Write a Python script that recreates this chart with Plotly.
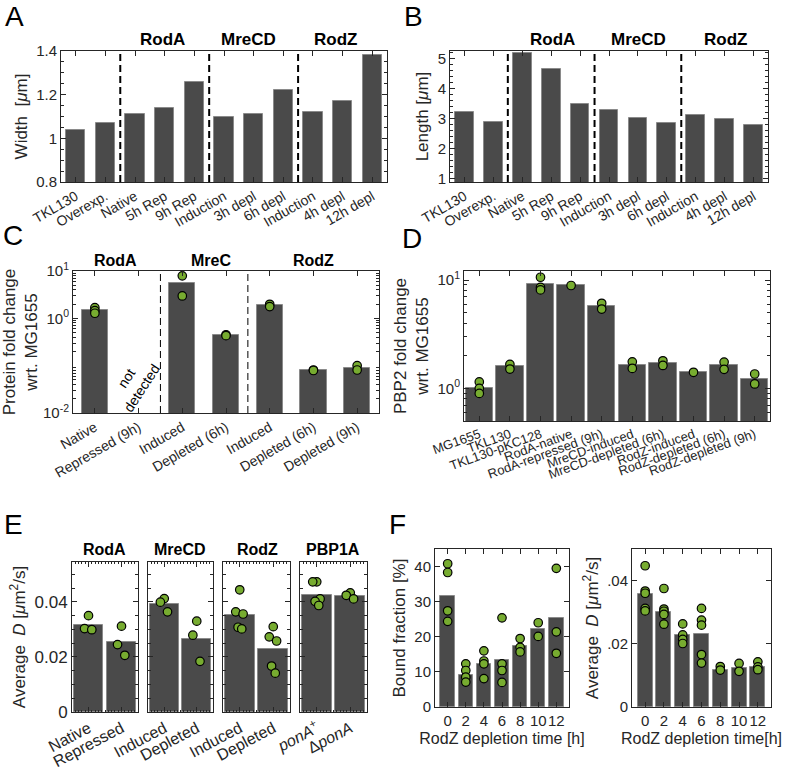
import plotly.graph_objects as go

W, H = 793, 772

# ---- data ----
ab_labels = ["TKL130", "Overexp.", "Native", "5h Rep", "9h Rep", "Induction",
             "3h depl", "6h depl", "Induction", "4h depl", "12h depl"]
ab_groups = ["RodA", "MreCD", "RodZ"]
width_vals = [1.04, 1.07, 1.11, 1.14, 1.26, 1.10, 1.11, 1.22, 1.12, 1.17, 1.38]
length_vals = [3.21, 2.90, 5.17, 4.64, 3.49, 3.28, 3.04, 2.85, 3.14, 3.00, 2.79]

c_labels = ["Native", "Repressed (9h)", "Induced", "Depleted (6h)",
            "Induced", "Depleted (6h)", "Depleted (9h)"]
c_groups = ["RodA", "MreC", "RodZ"]
c_bars = [1.5, None, 5.5, 0.45, 1.9, 0.081, 0.091]
c_dots = [[1.68, 1.45, 1.28], [], [7.9, 2.97], [0.45, 0.43],
          [1.98, 1.77], [0.081, 0.079], [0.1, 0.081]]

d_labels = ["MG1655", "TKL130", "TKL130-pKC128", "RodA-native",
            "RodA-repressed (9h)", "MreCD-induced", "MreCD-depleted (6h)",
            "RodZ-induced", "RodZ-depleted (6h)", "RodZ-depleted (9h)"]
d_bars = [1.0, 1.61, 9.1, 8.9, 5.75, 1.64, 1.71, 1.41, 1.63, 1.22]
d_dots = [[1.15, 1.0, 0.9], [1.67, 1.51], [10.6, 8.55, 8.1], [8.9],
          [6.1, 5.4], [1.76, 1.53], [1.8, 1.63], [1.41], [1.75, 1.5],
          [1.36, 1.1]]

e_groups = ["RodA", "MreCD", "RodZ", "PBP1A"]
e_labels = [["Native", "Repressed"], ["Induced", "Depleted"],
            ["Induced", "Depleted"],
            ["<i>ponA</i><sup>+</sup>", "Δ<i>ponA</i>"]]
e_bars = [[0.0316, 0.0256], [0.0392, 0.0265], [0.0353, 0.0230],
          [0.0424, 0.0422]]
e_dots = [
    [[0.0350, 0.0303, 0.0299], [0.0312, 0.0245, 0.0206]],
    [[0.0412, 0.0399, 0.0364], [0.0330, 0.0279, 0.0184]],
    [[0.0444, 0.0364, 0.0356, 0.0308, 0.0302],
     [0.0310, 0.0273, 0.0258, 0.0167, 0.0141]],
    [[0.0473, 0.0473, 0.0411, 0.0402, 0.0387], [0.0433, 0.0424, 0.0411]],
]

f_time = [0, 2, 4, 6, 8, 10, 12]
f_bound = [31.7, 9.1, 12.3, 13.4, 17.5, 22.1, 25.4]
f_bound_dots = [[40.8, 38.3, 27.4, 24.4], [12.3, 10.4, 8.5, 7.1],
                [16.0, 13.1, 12.3, 8.1], [25.4, 12.3, 10.4, 7.0],
                [19.5, 17.0, 15.7], [24.0, 20.1], [39.5, 21.4, 15.3]]
f_D = [0.0358, 0.0302, 0.0227, 0.0230, 0.0118, 0.0125, 0.0127]
f_D_dots = [[0.0447, 0.0367, 0.0360, 0.0312, 0.0304],
            [0.0375, 0.0310, 0.0303, 0.0293, 0.0262],
            [0.0263, 0.0228, 0.0214, 0.0201],
            [0.0312, 0.0275, 0.0259, 0.0166, 0.0139],
            [0.0128, 0.0117], [0.0138, 0.0113], [0.0143, 0.0127, 0.0118]]

# ---- style ----
FONT = "Liberation Sans, Arial, sans-serif"
AXC = "#262626"
BARC = "#4a4a4a"
DOTC = "#77AC30"
MU = "<i>μ</i>"


def xd(a, b):
    return [a / W, b / W]


def yd(top, bot):
    return [1 - bot / H, 1 - top / H]


def names(i):
    s = "" if i == 1 else str(i)
    return "x" + s, "y" + s, "xaxis" + s, "yaxis" + s


def base_axis(**kw):
    d = dict(showline=True, linecolor=AXC, linewidth=1, mirror="allticks",
             ticks="inside", ticklen=5, tickcolor=AXC, showgrid=False,
             zeroline=False, tickfont=dict(size=15, color=AXC),
             title=dict(font=dict(size=17, color=AXC)))
    d.update(kw)
    return d


def ytitle(s, standoff=4, size=17):
    return dict(text=s, font=dict(size=size, color=AXC), standoff=standoff)


def log_minor(lo, hi):
    vals = []
    for e in range(lo, hi):
        for m in range(2, 10):
            vals.append(m * 10 ** e)
    return vals


fig = go.Figure()
layout = {}
annos = []
shapes = []


def bars(i, x, y, w):
    xa, ya, _, _ = names(i)
    fig.add_trace(go.Bar(x=x, y=y, width=w, xaxis=xa, yaxis=ya,
                         marker=dict(color=BARC, line=dict(color="#8a8a8a", width=1)),
                         showlegend=False))


def dots(i, x, y):
    xa, ya, _, _ = names(i)
    fig.add_trace(go.Scatter(x=x, y=y, mode="markers", xaxis=xa, yaxis=ya,
                             marker=dict(color=DOTC, size=8.5,
                                         line=dict(color="black", width=1.2)),
                             showlegend=False, cliponaxis=False))


def dashes(i, xs, width=2):
    xa, ya, _, _ = names(i)
    for xv in xs:
        shapes.append(dict(type="line", xref=xa, yref=ya + " domain", x0=xv, x1=xv,
                           y0=0, y1=1, line=dict(color="black", width=width, dash="7px,4px")))


def text(x, y, s, size=17, bold=False, **kw):
    annos.append(dict(x=x / W, y=1 - y / H, xref="paper", yref="paper",
                      xanchor="center", yanchor="middle",
                      text=f"<b>{s}</b>" if bold else s, showarrow=False,
                      font=dict(size=size, color="black", family=FONT), **kw))


# ---- A: width ----
pos = list(range(1, len(ab_labels) + 1))
bars(1, pos, width_vals, 0.65)
layout["xaxis"] = base_axis(domain=xd(61, 387), anchor="y", range=[0.5, 11.5],
                            tickvals=pos, ticktext=ab_labels, tickangle=-30,
                            tickfont=dict(size=14, color=AXC))
layout["yaxis"] = base_axis(domain=yd(51, 182), anchor="x", range=[0.8, 1.4],
                            tickvals=[0.8, 1, 1.2, 1.4], ticktext=["0.8", "1", "1.2", "1.4"],
                            minor=dict(dtick=0.05, ticks="inside", ticklen=3, tickcolor=AXC),
                            title=ytitle(f"Width  [{MU}m]"))
dashes(1, [2.5, 5.5, 8.5])
for xc, g in zip([162, 248, 335], ab_groups):
    text(xc, 40, g, bold=True)

# ---- B: length ----
bars(2, pos, length_vals, 0.65)
layout["xaxis2"] = base_axis(domain=xd(450, 768), anchor="y2", range=[0.5, 11.5],
                             tickvals=pos, ticktext=ab_labels, tickangle=-30,
                             tickfont=dict(size=14, color=AXC))
layout["yaxis2"] = base_axis(domain=yd(51, 182), anchor="x2", range=[0.9, 5.25],
                             tickvals=[1, 2, 3, 4, 5],
                             minor=dict(dtick=0.2, ticks="inside", ticklen=3, tickcolor=AXC),
                             title=ytitle(f"Length [{MU}m]"))
dashes(2, [2.5, 5.5, 8.5])
for xc, g in zip([552, 638, 725], ab_groups):
    text(xc, 40, g, bold=True)

# ---- C: protein fold change ----
cpos = list(range(1, len(c_labels) + 1))
bars(3, cpos, c_bars, 0.6)
for xv, ds in zip(cpos, c_dots):
    if ds:
        dots(3, [xv] * len(ds), ds)
layout["xaxis3"] = base_axis(domain=xd(73, 379), anchor="y3", range=[0.5, 7.5],
                             tickvals=cpos, ticktext=c_labels, tickangle=-30,
                             tickfont=dict(size=14, color=AXC))
layout["yaxis3"] = base_axis(domain=yd(271, 413), anchor="x3", type="log", range=[-2, 1],
                             tickvals=[0.01, 1, 10],
                             ticktext=["10<sup>-2</sup>", "10<sup>0</sup>", "10<sup>1</sup>"],
                             minor=dict(tickvals=log_minor(-2, 1), ticks="inside",
                                        ticklen=3, tickcolor=AXC),
                             title=ytitle("Protein fold change<br>wrt. MG1655"))
dashes(3, [2.5, 4.5], width=1)
for xc, g in zip([116, 211, 313], c_groups):
    text(xc, 260, g, size=16, bold=True)
text(134, 383, "not<br>detected", size=14, textangle=-57)

# ---- D: PBP2 fold change ----
dpos = list(range(1, len(d_labels) + 1))
bars(4, dpos, d_bars, 0.9)
for xv, ds in zip(dpos, d_dots):
    dots(4, [xv] * len(ds), ds)
layout["xaxis4"] = base_axis(domain=xd(464, 770), anchor="y4", range=[0.5, 10.5],
                             tickvals=dpos, ticktext=d_labels, tickangle=-20,
                             tickfont=dict(size=13, color=AXC))
layout["yaxis4"] = base_axis(domain=yd(271, 421), anchor="x4", type="log", range=[-0.3, 1.083],
                             tickvals=[1, 10], ticktext=["10<sup>0</sup>", "10<sup>1</sup>"],
                             minor=dict(tickvals=log_minor(-1, 2), ticks="inside",
                                        ticklen=3, tickcolor=AXC),
                             title=ytitle("PBP2 fold change<br>wrt. MG1655"))

# ---- E: diffusion, four small panels ----
e_boxes = [(72, 138), (148, 213), (223, 290), (300, 367)]
e_centers = [105, 180, 257, 333]
jit = [0, -0.12, 0.1, -0.05, 0.06]
for k in range(4):
    i = 5 + k
    xa, ya, xl, yl = names(i)
    bars(i, [1, 2], e_bars[k], 0.9)
    for j in range(2):
        ds = e_dots[k][j]
        dots(i, [j + 1 + jit[n % len(jit)] for n in range(len(ds))], ds)
    layout[xl] = base_axis(domain=xd(*e_boxes[k]), anchor=ya, range=[0.5, 2.5],
                           tickvals=[1, 2], ticktext=e_labels[k], tickangle=-28,
                           minor=dict(dtick=0.1, ticks="inside", ticklen=2, tickcolor=AXC),
                           tickfont=dict(size=16, color=AXC))
    ykw = dict(domain=yd(562, 712), anchor=xa, range=[0, 0.0545],
               tickvals=[0, 0.02, 0.04], ticktext=["0", "0.02", "0.04"],
               minor=dict(dtick=0.005, ticks="inside", ticklen=3, tickcolor=AXC))
    if k == 0:
        ykw["title"] = ytitle(f"Average  <i>D</i> [{MU}m<sup>2</sup>/s]")
        ykw["tickfont"] = dict(size=17, color=AXC)
    else:
        ykw["showticklabels"] = False
    layout[yl] = base_axis(**ykw)
    text(e_centers[k], 549, e_groups[k], size=16, bold=True)

# ---- F: RodZ depletion time course ----
bars(9, f_time, f_bound, 1.6)
for xv, ds in zip(f_time, f_bound_dots):
    dots(9, [xv] * len(ds), ds)
layout["xaxis9"] = base_axis(domain=xd(435, 569), anchor="y9", range=[-1.4, 13.4],
                             tickvals=f_time, tickangle=0,
                             title=ytitle("RodZ depletion time [h]", standoff=4, size=16))
layout["yaxis9"] = base_axis(domain=yd(549, 707), anchor="x9", range=[0, 45],
                             tickvals=[0, 10, 20, 30, 40],
                             title=ytitle("Bound fraction [%]"))

bars(10, f_time, f_D, 1.6)
for xv, ds in zip(f_time, f_D_dots):
    dots(10, [xv] * len(ds), ds)
layout["xaxis10"] = base_axis(domain=xd(632, 771), anchor="y10", range=[-1.4, 13.4],
                              tickvals=f_time, tickangle=0,
                              title=ytitle("RodZ depletion time[h]", standoff=4, size=16))
layout["yaxis10"] = base_axis(domain=yd(549, 707), anchor="x10", range=[0, 0.05],
                              tickvals=[0, 0.02, 0.04], ticktext=["0", ".02", ".04"],
                              title=ytitle(f"Average  <i>D</i> [{MU}m<sup>2</sup>/s]"))

# ---- panel letters ----
for lt, xc, yc in [("A", 14, 17), ("B", 413, 17), ("C", 13, 236),
                   ("D", 412, 238), ("E", 13, 524), ("F", 397, 524)]:
    text(xc, yc, lt, size=28)

fig.update_layout(
    width=W, height=H,
    margin=dict(l=0, r=0, t=0, b=0, autoexpand=False),
    paper_bgcolor="white", plot_bgcolor="white",
    font=dict(family=FONT, color=AXC),
    bargap=0, showlegend=False,
    annotations=annos, shapes=shapes,
    **layout,
)

# the page body has a default 8px margin; drop it so the figure sits at 0,0
fig.write_html("out.html", config={"displayModeBar": False},
               post_script="document.body.style.margin = '0px';")
